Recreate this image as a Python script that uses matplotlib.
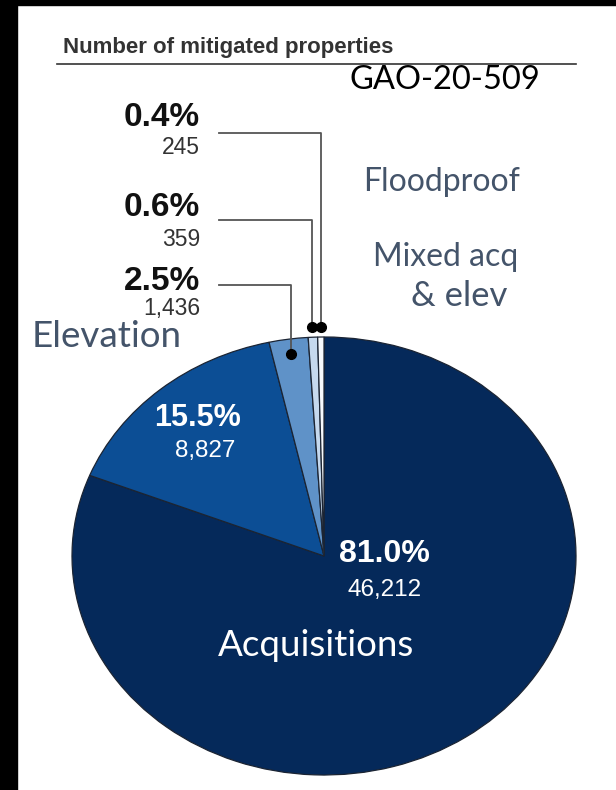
import matplotlib
matplotlib.use("Agg")
import matplotlib.pyplot as plt
from matplotlib.lines import Line2D
from matplotlib.patches import Rectangle
import numpy as np

# ---- data ----
categories = ["Acquisitions", "Elevation", "Other", "Mixed acq & elev", "Floodproof"]
percents = [81.0, 15.5, 2.5, 0.6, 0.4]
counts = ["46,212", "8,827", "1,436", "359", "245"]
pct_labels = ["81.0%", "15.5%", "2.5%", "0.6%", "0.4%"]
colors = ["#05295a", "#0c4e95", "#5f92c8", "#c6d9ee", "#f7f9fc"]

W, H = 616, 790
fig = plt.figure(figsize=(W / 100, H / 100), dpi=100)
fig.patch.set_facecolor("white")


def fx(x):
    return x / W


def fy(y):
    return 1 - y / H


# black frame (scan border)
fig.add_artist(Rectangle((0, 0), fx(17), 1, transform=fig.transFigure, color="black", zorder=10))
fig.add_artist(Rectangle((0, fy(5)), 1, 5 / H, transform=fig.transFigure, color="black", zorder=10))

# pie axes (elliptical pie: horizontally stretched)
cx, cy, rx, ry = 324, 556, 252, 219
ax = fig.add_axes([fx(cx - rx), fy(cy + ry), 2 * rx / W, 2 * ry / H])
wedges, _ = ax.pie(percents, colors=colors, startangle=90, counterclock=False,
                   wedgeprops=dict(edgecolor="#1b2433", linewidth=0.9))
ax.set_aspect("auto")
ax.set_xlim(-1, 1)
ax.set_ylim(-1, 1)
ax.axis("off")

# title
fig.text(fx(63), fy(47), "Number of mitigated properties", fontsize=16, fontweight="bold",
         color="#333333", family="Liberation Sans", va="center", ha="left")
fig.add_artist(Line2D([fx(57), fx(576)], [fy(64), fy(64)], transform=fig.transFigure,
                      color="#333333", lw=1.2))

calibri = ["Lato", "DejaVu Sans"]
fig.text(fx(445), fy(80), "GAO-20-509", fontsize=23.5, color="black", family=calibri,
         ha="center", va="center")
fig.text(fx(442), fy(182), "Floodproof", fontsize=23, color="#44546a", family=calibri,
         ha="center", va="center")
fig.text(fx(446), fy(257), "Mixed acq", fontsize=23, color="#44546a", family=calibri,
         ha="center", va="center")
fig.text(fx(459), fy(296), "& elev", fontsize=25, color="#44546a", family=calibri,
         ha="center", va="center")
fig.text(fx(107), fy(336), "Elevation", fontsize=26.5, color="#44546a", family=calibri,
         ha="center", va="center")
fig.text(fx(316), fy(645), "Acquisitions", fontsize=26.5, color="white", family=calibri,
         ha="center", va="center")

# in-slice labels
arial = "Liberation Sans"
fig.text(fx(197), fy(418), pct_labels[1], fontsize=22, fontweight="bold", color="white",
         family=arial, ha="center", va="center")
fig.text(fx(205), fy(451), counts[1], fontsize=17.5, color="white", family=arial,
         ha="center", va="center")
fig.text(fx(384), fy(554), pct_labels[0], fontsize=23, fontweight="bold", color="white",
         family=arial, ha="center", va="center")
fig.text(fx(385), fy(590), counts[0], fontsize=17.5, color="white", family=arial,
         ha="center", va="center")

# callouts for small slices
label_y = {2: (281, 309, 285), 3: (208, 239, 220), 4: (118, 147, 133)}
dot_r = {2: 0.93, 3: 1.045, 4: 1.045}
for i in (2, 3, 4):
    w = wedges[i]
    mid = np.deg2rad((w.theta1 + w.theta2) / 2)
    dx, dy = dot_r[i] * np.cos(mid), dot_r[i] * np.sin(mid)
    px, py = ax.transData.transform((dx, dy))
    px_fig, py_fig = px / fig.dpi / fig.get_figwidth(), py / fig.dpi / fig.get_figheight()
    ty_pct, ty_cnt, ly = label_y[i]
    fig.add_artist(Line2D([fx(219), px_fig, px_fig], [fy(ly), fy(ly), py_fig],
                          transform=fig.transFigure, color="#555555", lw=1.3))
    fig.add_artist(Line2D([px_fig], [py_fig], transform=fig.transFigure, marker="o",
                          markersize=7, color="black"))
    fig.text(fx(200), fy(ty_pct), pct_labels[i], fontsize=24, fontweight="bold",
             color="#111111", family=arial, ha="right", va="center")
    fig.text(fx(200), fy(ty_cnt), counts[i], fontsize=16.5, color="#333333", family=arial,
             ha="right", va="center")

fig.savefig("out.png", dpi=100, facecolor="white")
